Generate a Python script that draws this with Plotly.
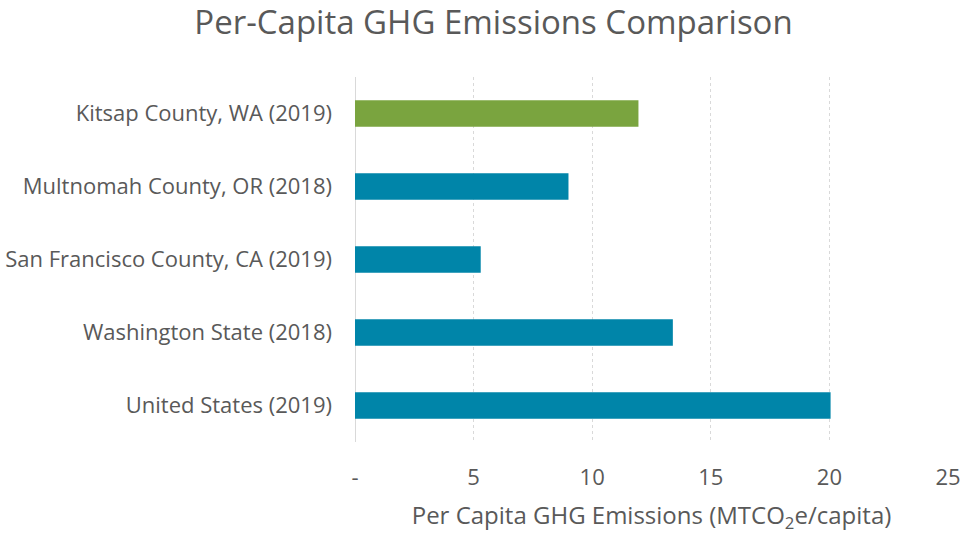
import plotly.graph_objects as go

categories = ["Kitsap County, WA (2019)", "Multnomah County, OR (2018)",
              "San Francisco County, CA (2019)", "Washington State (2018)",
              "United States (2019)"]
values = [11.95, 9.0, 5.3, 13.4, 20.05]
bar_colors = ["#7aa43f", "#0085a9", "#0085a9", "#0085a9", "#0085a9"]
tick_vals = [0, 5, 10, 15, 20, 25]
tick_text = ["-", "5", "10", "15", "20", "25"]

FONT = "Open Sans"
GRAY = "#595959"

fig = go.Figure(go.Bar(
    y=categories, x=values, orientation="h",
    marker=dict(color=bar_colors, line=dict(width=0)),
    width=0.36,
))

fig.update_layout(
    width=962, height=536,
    margin=dict(l=355, r=14, t=77, b=94),
    paper_bgcolor="white", plot_bgcolor="white",
    font=dict(family=FONT, color=GRAY, size=22),
    title=dict(text="Per-Capita GHG Emissions Comparison", x=0.513, xanchor="center",
               y=0.959, yanchor="middle", font=dict(size=33, color=GRAY, family=FONT)),
    showlegend=False,
    bargap=0.64,
)
fig.update_xaxes(
    range=[0, 25], tickvals=tick_vals, ticktext=tick_text,
    showgrid=True, gridcolor="#d9d9d9", gridwidth=1, griddash="dot",
    zeroline=True, zerolinecolor="#d9d9d9", zerolinewidth=1,
    showline=False, automargin=False,
    ticks="", ticklabelstandoff=20,
    tickfont=dict(size=22, color=GRAY),
    title=dict(text="Per Capita GHG Emissions (MTCO<sub>2</sub>e/capita)",
               font=dict(size=24, color=GRAY), standoff=17),
)
fig.update_yaxes(
    categoryorder="array", categoryarray=categories[::-1],
    showgrid=False, zeroline=False, showline=False, ticks="",
    automargin=False, ticklabelstandoff=22,
    tickfont=dict(size=22, color=GRAY),
)
fig.write_html(
    "out.html",
    config={"displayModeBar": False},
    post_script="document.body.style.margin='0';document.body.style.overflow='hidden';",
)
